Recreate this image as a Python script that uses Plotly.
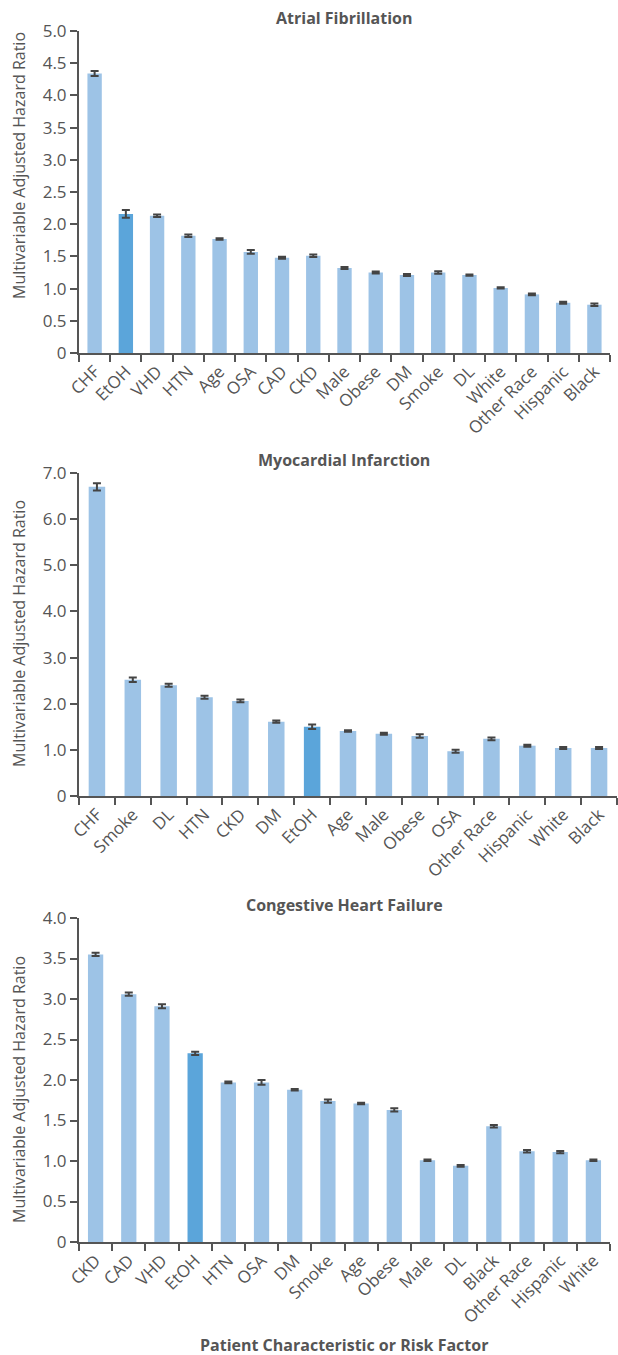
import plotly.graph_objects as go

# ---- Atrial fibrillation ----
af_labels = ["CHF", "EtOH", "VHD", "HTN", "Age", "OSA", "CAD", "CKD", "Male", "Obese",
             "DM", "Smoke", "DL", "White", "Other Race", "Hispanic", "Black"]
af_hr = [4.34, 2.16, 2.13, 1.82, 1.77, 1.57, 1.48, 1.51, 1.32, 1.25,
         1.21, 1.25, 1.21, 1.01, 0.91, 0.78, 0.75]
af_err = [0.04, 0.06, 0.02, 0.02, 0.01, 0.03, 0.015, 0.02, 0.015, 0.015,
          0.015, 0.02, 0.01, 0.01, 0.015, 0.015, 0.02]

# ---- Myocardial infarction ----
mi_labels = ["CHF", "Smoke", "DL", "HTN", "CKD", "DM", "EtOH", "Age", "Male", "Obese",
             "OSA", "Other Race", "Hispanic", "White", "Black"]
mi_hr = [6.70, 2.52, 2.40, 2.14, 2.06, 1.61, 1.50, 1.41, 1.35, 1.30,
         0.97, 1.24, 1.09, 1.04, 1.04]
mi_err = [0.08, 0.05, 0.03, 0.03, 0.03, 0.025, 0.05, 0.015, 0.02, 0.04,
          0.03, 0.03, 0.02, 0.02, 0.02]

# ---- Congestive heart failure ----
chf_labels = ["CKD", "CAD", "VHD", "EtOH", "HTN", "OSA", "DM", "Smoke", "Age", "Obese",
              "Male", "DL", "Black", "Other Race", "Hispanic", "White"]
chf_hr = [3.55, 3.06, 2.91, 2.33, 1.97, 1.97, 1.88, 1.74, 1.71, 1.63,
          1.01, 0.94, 1.43, 1.12, 1.11, 1.01]
chf_err = [0.02, 0.02, 0.025, 0.02, 0.01, 0.03, 0.01, 0.02, 0.01, 0.02,
           0.01, 0.01, 0.015, 0.015, 0.015, 0.01]

titles = ["Atrial Fibrillation", "Myocardial Infarction", "Congestive Heart Failure"]
y_ticks = [[0, 0.5, 1.0, 1.5, 2.0, 2.5, 3.0, 3.5, 4.0, 4.5, 5.0],
           [0, 1.0, 2.0, 3.0, 4.0, 5.0, 6.0, 7.0],
           [0, 0.5, 1.0, 1.5, 2.0, 2.5, 3.0, 3.5, 4.0]]

W, H = 618, 1355
LIGHT = "#9dc3e6"
DARK = "#5ba5da"
INK = "#555555"
FONT = "Open Sans"


def py(px):
    """Convert a pixel row (from top) to paper y."""
    return 1 - px / H


# pixel boxes of each plot area: (left, right, top, bottom)
boxes = [(79, 610, 31, 353), (79, 617, 473, 796), (79, 610, 918, 1242)]
title_rows = [18, 460, 905]
ytitle_rows = [166, 634, 1090]

panels = [(af_labels, af_hr, af_err), (mi_labels, mi_hr, mi_err),
          (chf_labels, chf_hr, chf_err)]

fig = go.Figure()
layout = {}
annotations = []
for i, ((labels, hr, err), box, ticks, title) in enumerate(zip(panels, boxes, y_ticks, titles)):
    n = i + 1
    xa = "x" if n == 1 else f"x{n}"
    ya = "y" if n == 1 else f"y{n}"
    colors = [DARK if lab == "EtOH" else LIGHT for lab in labels]
    fig.add_trace(go.Bar(
        x=labels, y=hr, xaxis=xa, yaxis=ya,
        marker=dict(color=colors, line=dict(width=0)),
        width=0.46,
        error_y=dict(type="data", array=err, visible=True, color="#444444",
                     thickness=2, width=4),
        showlegend=False,
    ))
    l, r, t, b = box
    layout[f"xaxis{'' if n == 1 else n}"] = dict(
        domain=[l / W, r / W], anchor=ya, type="category", automargin=False,
        showline=True, linecolor=INK, linewidth=2,
        ticks="outside", tickson="boundaries", ticklen=7, tickwidth=2, tickcolor=INK,
        tickangle=-45, tickfont=dict(family=FONT, size=17, color=INK),
        showgrid=False, zeroline=False, fixedrange=True,
    )
    layout[f"yaxis{'' if n == 1 else n}"] = dict(
        domain=[py(b), py(t)], anchor=xa, range=[0, ticks[-1]], automargin=False,
        tickvals=ticks, ticktext=["0"] + [f"{v:.1f}" for v in ticks[1:]],
        showline=True, linecolor=INK, linewidth=2,
        ticks="outside", ticklen=7, tickwidth=2, tickcolor=INK,
        tickfont=dict(family=FONT, size=17, color=INK),
        showgrid=False, zeroline=False, fixedrange=True,
    )
    annotations.append(dict(
        text=f"<b>{title}</b>", xref="paper", yref="paper",
        x=344 / W, y=py(title_rows[i]), xanchor="center", yanchor="middle",
        showarrow=False, font=dict(family=FONT, size=16, color=INK),
    ))
    annotations.append(dict(
        text="Multivariable Adjusted Hazard Ratio", xref="paper", yref="paper",
        x=19 / W, y=py(ytitle_rows[i]), xanchor="center", yanchor="middle",
        textangle=-90, showarrow=False, font=dict(family=FONT, size=16, color=INK),
    ))

annotations.append(dict(
    text="<b>Patient Characteristic or Risk Factor</b>", xref="paper", yref="paper",
    x=344 / W, y=py(1345), xanchor="center", yanchor="middle",
    showarrow=False, font=dict(family=FONT, size=16, color=INK),
))

fig.update_layout(
    width=W, height=H,
    margin=dict(l=0, r=0, t=0, b=0, autoexpand=False),
    paper_bgcolor="white", plot_bgcolor="white",
    annotations=annotations,
    **layout,
)

fig.write_html(
    "out.html",
    config={"displayModeBar": False},
    post_script="document.body.style.margin='0';document.body.style.overflow='hidden';",
)
